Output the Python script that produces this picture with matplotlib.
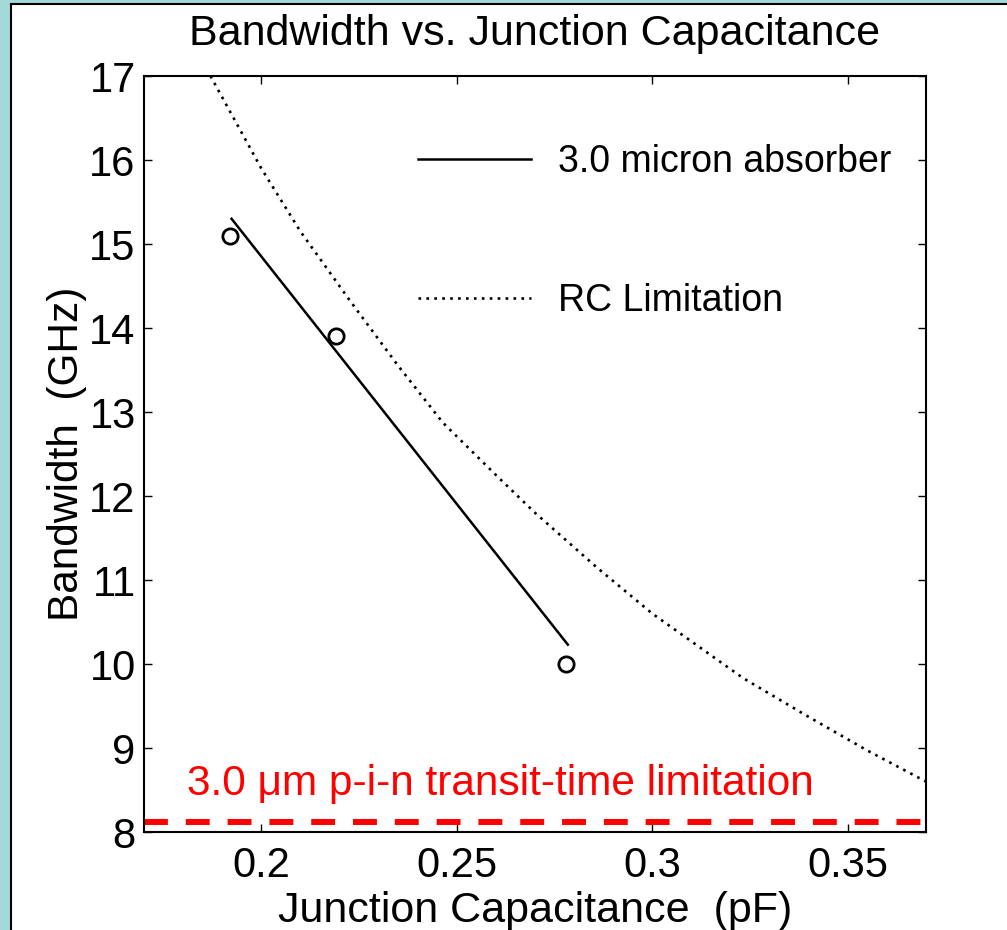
import matplotlib
matplotlib.use("Agg")
import matplotlib.pyplot as plt
from matplotlib.patches import Rectangle

plt.rcParams["font.family"] = ["Liberation Sans", "DejaVu Sans"]

# measured points (circles)
meas_c = [0.192, 0.219, 0.278]
meas_bw = [15.1, 13.9, 10.0]

# 3.0 micron absorber fit line
fit_c = [0.1924, 0.2784]
fit_bw = [15.30, 10.23]

# RC limitation curve
rc_c = [0.187, 0.200, 0.210, 0.2226, 0.235, 0.2465, 0.260, 0.270, 0.2858,
        0.300, 0.3233, 0.340, 0.355, 0.370]
rc_bw = [17.0, 15.9, 15.15, 14.33, 13.55, 12.87, 12.25, 11.8, 11.15,
         10.6, 9.83, 9.37, 8.97, 8.6]

transit_bw = 8.12

x_ticks = [0.2, 0.25, 0.3, 0.35]
x_labels = ["0.2", "0.25", "0.3", "0.35"]
y_ticks = list(range(8, 18))

W, H = 1007, 930
fig = plt.figure(figsize=(W / 100, H / 100), dpi=100)
fig.patch.set_facecolor("white")

# slide-style teal border
teal = "#a3d9d9"
fig.patches.append(Rectangle((0, 0), 10.5 / W, 1, transform=fig.transFigure,
                             facecolor=teal, edgecolor="none", zorder=0))
fig.patches.append(Rectangle((0, 1 - 3.5 / H), 1, 3.5 / H, transform=fig.transFigure,
                             facecolor=teal, edgecolor="none", zorder=0))
fig.add_artist(plt.Line2D([11 / W, 11 / W], [0, 1 - 4 / H], transform=fig.transFigure,
                          color="black", lw=1.5))
fig.add_artist(plt.Line2D([11 / W, 1], [1 - 4 / H, 1 - 4 / H], transform=fig.transFigure,
                          color="black", lw=1.5))

ax = fig.add_axes([144 / W, (H - 832) / H, (926 - 144) / W, (832 - 76) / H])

ax.plot(fit_c, fit_bw, color="black", lw=1.8, label="3.0 micron absorber")
ax.plot(rc_c, rc_bw, color="black", lw=1.9, dashes=(1, 2.0), label="RC Limitation")
ax.plot(meas_c, meas_bw, "o", mfc="none", mec="black", ms=11, mew=2)

ax.axhline(transit_bw, color="#ff0000", lw=4.3, dashes=(4.0, 3.0))
ax.text(0.181, 8.44, "3.0 \u03bcm p-i-n transit-time limitation", color="#ff0000",
        fontsize=30.5)

ax.set_xlim(0.17, 0.37)
ax.set_ylim(8, 17)
ax.set_xticks(x_ticks)
ax.set_xticklabels(x_labels)
ax.set_yticks(y_ticks)
ax.tick_params(direction="in", length=6, width=1, labelsize=30, pad=6,
               top=True, right=True)
ax.tick_params(axis="x", pad=10)
for s in ax.spines.values():
    s.set_linewidth(1.5)

ax.set_title("Bandwidth vs. Junction Capacitance", fontsize=31, pad=22)
ax.set_xlabel("Junction Capacitance  (pF)", fontsize=31, labelpad=4)
ax.set_ylabel("Bandwidth  (GHz)", fontsize=30.5, labelpad=2)

ax.legend(loc="upper left", bbox_to_anchor=(418 / W, 1 - 144 / H),
          bbox_transform=fig.transFigure, frameon=False, fontsize=27,
          handlelength=3.0, handletextpad=0.72, labelspacing=2.74,
          borderpad=0, borderaxespad=0)

fig.savefig("out.png", dpi=100)
